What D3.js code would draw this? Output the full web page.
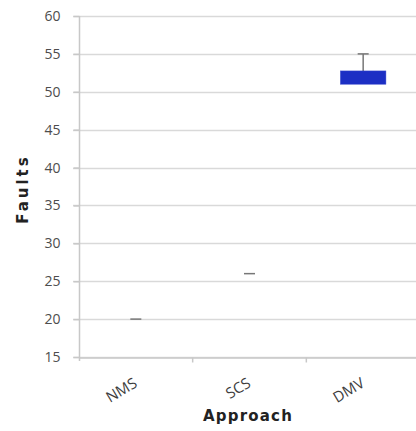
<!DOCTYPE html>
<html>
<head>
<meta charset="utf-8">
<script src="https://cdn.jsdelivr.net/npm/d3@7/dist/d3.min.js"></script>
<style>
  html, body { margin: 0; padding: 0; background: #fff; }
  svg { display: block; }
</style>
</head>
<body>
<svg id="chart" width="416" height="431"></svg>
<script>
// Data
const categories = ["NMS", "SCS", "DMV"];
const lowValues  = [20, 26, 51];
const q1Values   = [20, 26, 51];
const q3Values   = [20, 26, 52.75];
const highValues = [20, 26, 55];
const yTicks = [15, 20, 25, 30, 35, 40, 45, 50, 55, 60];

const svg = d3.select("#chart");
const margin = { left: 79, right: -4, top: 16, bottom: 74 };
const W = 416, H = 431;

const x = d3.scaleBand().domain(categories).range([margin.left, W - margin.right]).paddingInner(0).paddingOuter(0);
const y = d3.scaleLinear().domain([15, 60]).range([H - margin.bottom, margin.top]);

// gridlines
svg.append("g").selectAll("line").data(yTicks).join("line")
  .attr("x1", margin.left - 6).attr("x2", W)
  .attr("y1", d => Math.round(y(d)) + 0.5).attr("y2", d => Math.round(y(d)) + 0.5)
  .attr("stroke", "#d9d9d9").attr("stroke-width", 1.5);

// y axis
const yAxis = d3.axisLeft(y).tickValues(yTicks).tickSize(6).tickPadding(13);
const gy = svg.append("g").attr("transform", `translate(${margin.left + 0.5},0)`).call(yAxis);
gy.select(".domain").attr("stroke", "#c8c8c8").attr("stroke-width", 1.5)
  .attr("d", `M0,${y(60)}V${y(15) + 4}`);
gy.selectAll(".tick line").attr("stroke", "#c8c8c8").attr("stroke-width", 1.5);
gy.selectAll(".tick text").attr("fill", "#4d4d4d").style("font-family", "'Open Sans', sans-serif").style("font-size", "14px");

// x axis
const xAxis = d3.axisBottom(x).tickSize(0).tickFormat("");
const gx = svg.append("g").attr("transform", `translate(0,${Math.round(y(15)) + 0.5})`).call(xAxis);
gx.select(".domain").attr("stroke", "#c8c8c8").attr("stroke-width", 1.5);
// category separator ticks
gx.append("g").selectAll("line").data(categories.slice(1)).join("line")
  .attr("x1", d => x(d)).attr("x2", d => x(d)).attr("y1", 0).attr("y2", 5)
  .attr("stroke", "#c8c8c8").attr("stroke-width", 1.5);

// x tick labels rotated
svg.append("g").selectAll("text").data(categories).join("text")
  .attr("transform", d => `translate(${x(d) + x.bandwidth() / 2 - 3},${y(15) + 20}) rotate(-31)`)
  .attr("text-anchor", "end")
  .attr("dy", "0.7em")
  .attr("fill", "#3d3d3d")
  .style("font-family", "'Open Sans', sans-serif").style("font-size", "15px")
  .text(d => d);

// whiskers
const boxW = x.bandwidth() * 0.4;
const capW = 9;
const g = svg.append("g");
categories.forEach((c, i) => {
  const cx = x(c) + x.bandwidth() / 2;
  g.append("line").attr("x1", cx).attr("x2", cx).attr("y1", y(highValues[i])).attr("y2", y(q3Values[i]))
    .attr("stroke", "#777").attr("stroke-width", 1.5);
  g.append("line").attr("x1", cx).attr("x2", cx).attr("y1", y(q1Values[i])).attr("y2", y(lowValues[i]))
    .attr("stroke", "#777").attr("stroke-width", 1.5);
  g.append("line").attr("x1", cx - capW / 2 - 1).attr("x2", cx + capW / 2 + 1)
    .attr("y1", y(highValues[i])).attr("y2", y(highValues[i]))
    .attr("stroke", "#777").attr("stroke-width", 1.5);
  if (q3Values[i] > q1Values[i]) {
    g.append("rect").attr("x", cx - boxW / 2).attr("width", boxW)
      .attr("y", y(q3Values[i])).attr("height", y(q1Values[i]) - y(q3Values[i]))
      .attr("fill", "#1c2fc4").attr("stroke", "#3344cc").attr("stroke-width", 0.5);
  }
});

// axis titles
svg.append("text")
  .attr("x", 248).attr("y", 421)
  .attr("text-anchor", "middle")
  .attr("fill", "#222")
  .style("font-family", "'DejaVu Sans', sans-serif").style("font-size", "15px").style("font-weight", "bold")
  .style("letter-spacing", "1.2px")
  .text("Approach");

svg.append("text")
  .attr("transform", `translate(28,189) rotate(-90)`)
  .attr("text-anchor", "middle")
  .attr("fill", "#222")
  .style("font-family", "'DejaVu Sans', sans-serif").style("font-size", "15px").style("font-weight", "bold")
  .style("letter-spacing", "3px")
  .text("Faults");
</script>
</body>
</html>
